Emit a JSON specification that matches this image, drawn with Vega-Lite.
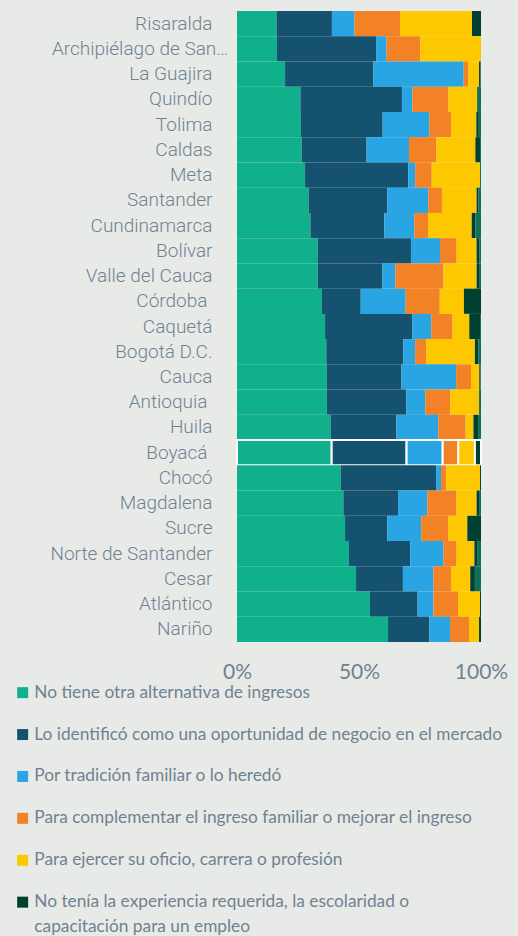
{
  "$schema": "https://vega.github.io/schema/vega-lite/v6.json",
  "width": 244,
  "height": 631,
  "autosize": {"type": "none"},
  "padding": {"left": 237, "top": 11, "right": 37, "bottom": 294},
  "background": "#e8eae8",
  "config": {"view": {"stroke": null}},
  "data": {
    "values": [
      {"dep": "Risaralda", "k1": 16.2, "k2": 22.7, "k3": 9.2, "k4": 18.7, "k5": 29.5, "k6": 3.7, "k7": 0},
      {"dep": "Archipiélago de San…", "k1": 16.4, "k2": 40.6, "k3": 4.2, "k4": 13.9, "k5": 24.9, "k6": 0, "k7": 0},
      {"dep": "La Guajira", "k1": 19.7, "k2": 36.2, "k3": 37.0, "k4": 1.8, "k5": 4.5, "k6": 0.5, "k7": 0.3},
      {"dep": "Quindío", "k1": 26.0, "k2": 41.6, "k3": 4.3, "k4": 14.7, "k5": 11.8, "k6": 0, "k7": 1.6},
      {"dep": "Tolima", "k1": 26.2, "k2": 33.5, "k3": 19.1, "k4": 8.9, "k5": 10.4, "k6": 1.0, "k7": 0.9},
      {"dep": "Caldas", "k1": 26.5, "k2": 26.6, "k3": 17.4, "k4": 11.2, "k5": 16.0, "k6": 1.9, "k7": 0.4},
      {"dep": "Meta", "k1": 27.9, "k2": 42.3, "k3": 2.8, "k4": 6.8, "k5": 19.8, "k6": 0, "k7": 0.4},
      {"dep": "Santander", "k1": 29.4, "k2": 32.2, "k3": 16.8, "k4": 5.6, "k5": 14.2, "k6": 0.8, "k7": 1.0},
      {"dep": "Cundinamarca", "k1": 30.1, "k2": 30.3, "k3": 12.3, "k4": 5.6, "k5": 17.9, "k6": 1.5, "k7": 2.3},
      {"dep": "Bolívar", "k1": 33.1, "k2": 38.2, "k3": 11.9, "k4": 6.8, "k5": 8.2, "k6": 1.2, "k7": 0.6},
      {"dep": "Valle del Cauca", "k1": 33.1, "k2": 26.5, "k3": 5.3, "k4": 19.7, "k5": 13.6, "k6": 1.3, "k7": 0.5},
      {"dep": "Córdoba", "k1": 34.8, "k2": 15.9, "k3": 18.4, "k4": 14.0, "k5": 9.9, "k6": 7.0, "k7": 0},
      {"dep": "Caquetá", "k1": 36.1, "k2": 35.8, "k3": 7.7, "k4": 8.7, "k5": 6.9, "k6": 4.4, "k7": 0.4},
      {"dep": "Bogotá D.C.", "k1": 36.6, "k2": 31.6, "k3": 4.8, "k4": 4.5, "k5": 20.0, "k6": 1.4, "k7": 1.1},
      {"dep": "Cauca", "k1": 36.8, "k2": 30.6, "k3": 22.4, "k4": 6.1, "k5": 3.4, "k6": 0.5, "k7": 0.2},
      {"dep": "Antioquia", "k1": 36.8, "k2": 32.6, "k3": 7.8, "k4": 10.2, "k5": 11.8, "k6": 0, "k7": 0.8},
      {"dep": "Huila", "k1": 38.4, "k2": 26.9, "k3": 17.2, "k4": 11.2, "k5": 3.2, "k6": 1.9, "k7": 1.2},
      {"dep": "Boyacá", "k1": 38.8, "k2": 30.7, "k3": 14.8, "k4": 6.4, "k5": 6.8, "k6": 2.5, "k7": 0},
      {"dep": "Chocó", "k1": 42.5, "k2": 39.1, "k3": 2.0, "k4": 2.1, "k5": 13.9, "k6": 0.4, "k7": 0},
      {"dep": "Magdalena", "k1": 43.6, "k2": 22.4, "k3": 12.0, "k4": 11.9, "k5": 8.3, "k6": 1.0, "k7": 0.8},
      {"dep": "Sucre", "k1": 44.3, "k2": 17.3, "k3": 13.9, "k4": 11.0, "k5": 7.9, "k6": 5.6, "k7": 0},
      {"dep": "Norte de Santander", "k1": 45.9, "k2": 25.1, "k3": 13.6, "k4": 5.4, "k5": 7.3, "k6": 1.1, "k7": 1.6},
      {"dep": "Cesar", "k1": 48.8, "k2": 19.2, "k3": 12.5, "k4": 7.2, "k5": 7.9, "k6": 1.9, "k7": 2.5},
      {"dep": "Atlántico", "k1": 54.5, "k2": 19.5, "k3": 6.5, "k4": 10.1, "k5": 9.0, "k6": 0.4, "k7": 0},
      {"dep": "Nariño", "k1": 61.9, "k2": 16.9, "k3": 8.5, "k4": 7.8, "k5": 4.1, "k6": 0.8, "k7": 0}
    ]
  },
  "transform": [{"fold": ["k1", "k2", "k3", "k4", "k5", "k6", "k7"], "as": ["cat", "v"]}],
  "mark": {"type": "bar", "stroke": "#ffffff"},
  "encoding": {
    "y": {
      "field": "dep",
      "type": "nominal",
      "sort": null,
      "scale": {"paddingInner": 0, "paddingOuter": 0},
      "axis": {
        "title": null,
        "ticks": false,
        "domain": false,
        "grid": false,
        "labelFont": "Roboto",
        "labelFontWeight": 300,
        "labelFontSize": 19,
        "labelColor": "#6f8290",
        "labelPadding": {
          "condition": [
            {"test": "indexof(datum.value, 'Archip') >= 0", "value": 9},
            {"test": "indexof(datum.value, 'Córdoba') >= 0 || indexof(datum.value, 'Antioquia') >= 0 || indexof(datum.value, 'Boyac') >= 0", "value": 30}
          ],
          "value": 25
        },
        "labelLimit": 300
      }
    },
    "x": {
      "field": "v",
      "type": "quantitative",
      "stack": "normalize",
      "scale": {"domain": [0, 1]},
      "axis": {
        "title": null,
        "values": [0, 0.5, 1],
        "format": "%",
        "ticks": false,
        "domain": false,
        "grid": false,
        "labelFlush": false,
        "labelFont": "Lato",
        "labelFontSize": 21,
        "labelColor": "#6f8290",
        "labelPadding": 19
      }
    },
    "color": {
      "field": "cat",
      "type": "nominal",
      "scale": {
        "domain": ["k1", "k2", "k3", "k4", "k5", "k6", "k7"],
        "range": ["#10b08c", "#155270", "#29a5e4", "#f38226", "#fdc800", "#004030", "#127058"]
      },
      "legend": {
        "orient": "none",
        "legendX": -223,
        "legendY": 673,
        "direction": "vertical",
        "title": null,
        "values": ["k1", "k2", "k3", "k4", "k5", "k6"],
        "symbolType": "square",
        "symbolSize": 121,
        "symbolStrokeWidth": 0,
        "labelFont": "Lato",
        "labelFontSize": 17.3,
        "labelColor": "#6f8290",
        "labelOffset": 3,
        "rowPadding": 23.9,
        "labelLimit": 500,
        "encoding": {"labels": {"lineHeight": {"value": 25}, "update": {"lineHeight": {"value": 25}}}},
        "labelExpr": "datum.label == 'k1' ? 'No tiene otra alternativa de ingresos' : datum.label == 'k2' ? 'Lo identificó como una oportunidad de negocio en el mercado' : datum.label == 'k3' ? 'Por tradición familiar o lo heredó' : datum.label == 'k4' ? 'Para complementar el ingreso familiar o mejorar el ingreso' : datum.label == 'k5' ? 'Para ejercer su oficio, carrera o profesión' : ['No tenía la experiencia requerida, la escolaridad o', 'capacitación para un empleo']"
      }
    },
    "order": {"field": "cat"},
    "strokeWidth": {"condition": {"test": "datum.dep == 'Boyacá'", "value": 2}, "value": 0}
  }
}
